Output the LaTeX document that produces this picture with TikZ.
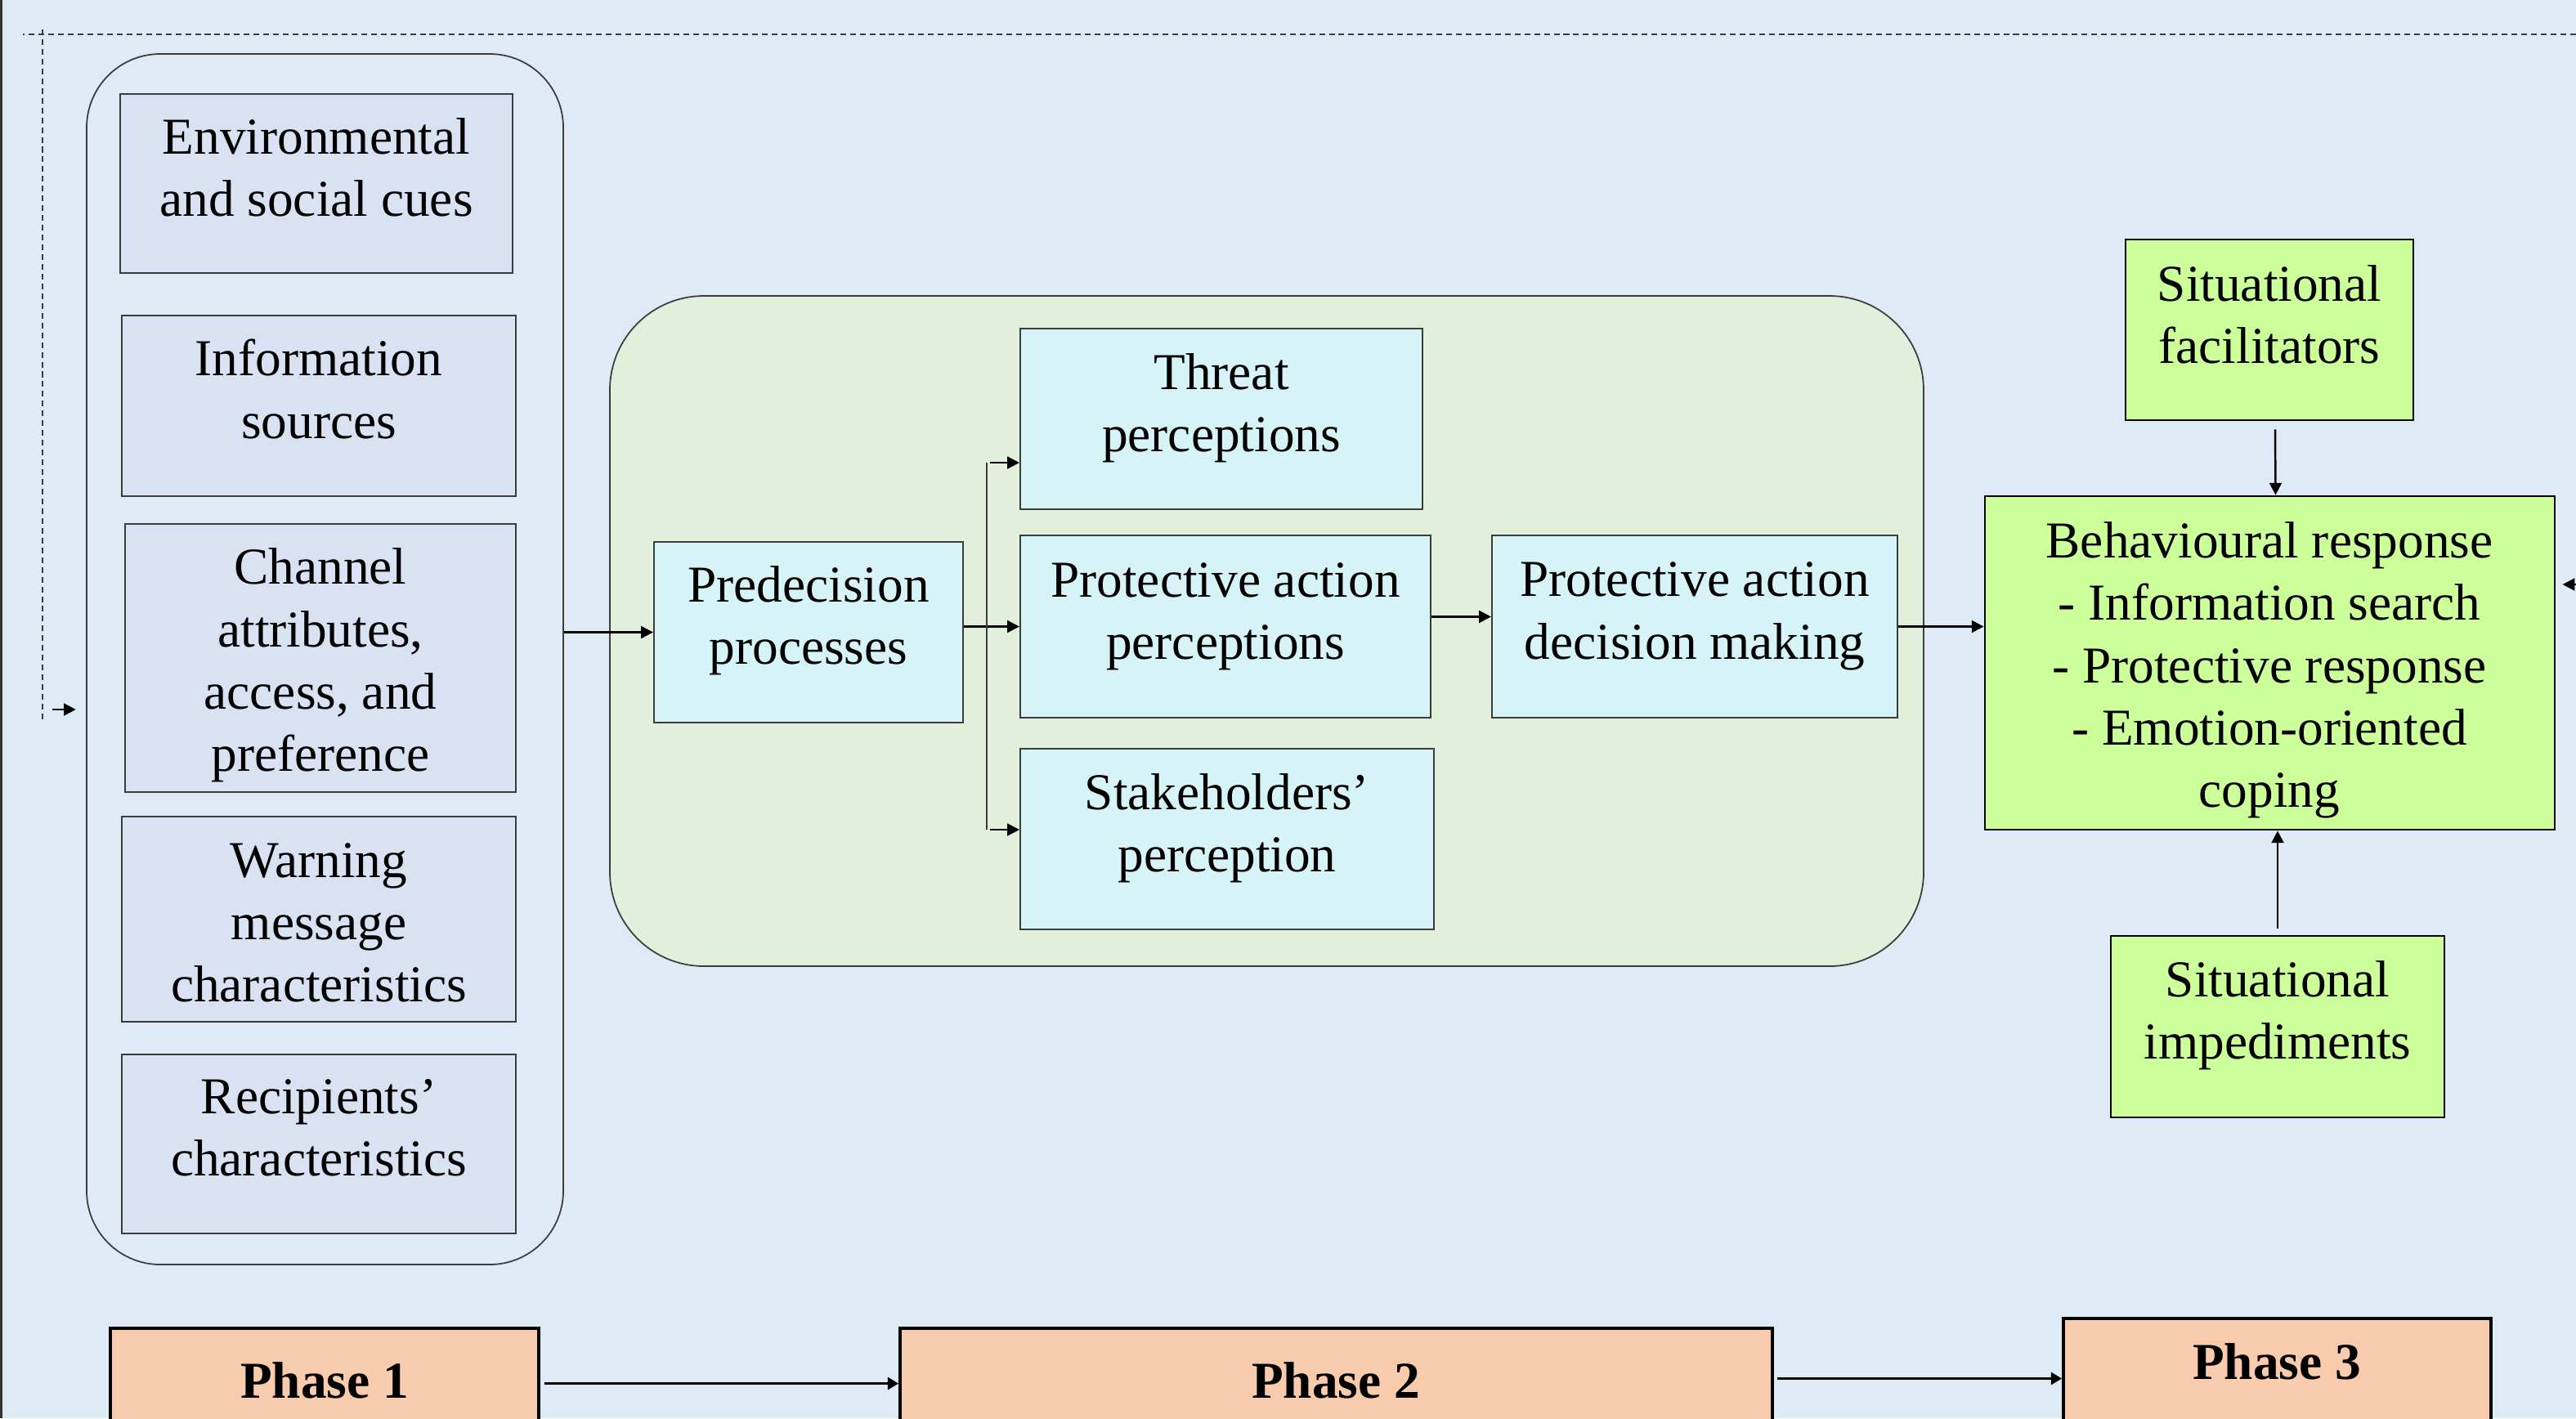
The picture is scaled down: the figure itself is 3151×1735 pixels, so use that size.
\documentclass[tikz,border=0pt]{standalone}
\usepackage{fontspec}
\setmainfont{Liberation Serif}
\usetikzlibrary{arrows.meta,fit}

\definecolor{bg}{RGB}{222,234,246}
\definecolor{lav}{RGB}{217,226,243}
\definecolor{pale}{RGB}{226,239,218}
\definecolor{cyanbox}{RGB}{214,244,247}
\definecolor{lime}{RGB}{204,255,153}
\definecolor{peach}{RGB}{248,203,173}
\definecolor{edge}{RGB}{60,60,60}

\tikzset{
  txt/.style={align=center, inner sep=0pt, font=\fontsize{18}{21.7}\selectfont},
  phasetxt/.style={align=center, inner sep=0pt, font=\fontsize{18}{21.7}\selectfont\bfseries},
  group/.style={draw=edge, line width=0.5pt, inner sep=0pt},
  lavbox/.style={draw=edge, fill=lav, line width=0.7pt, inner sep=0pt},
  cybox/.style={draw=edge, fill=cyanbox, line width=0.6pt, inner sep=0pt},
  limebox/.style={draw=black, fill=lime, line width=0.8pt, inner sep=0pt},
  phasebox/.style={draw=black, fill=peach, line width=1pt, inner sep=0pt},
  arr/.style={draw=black, line width=0.7pt, -{Triangle[length=4.2pt,width=4.2pt]}},
  phasearr/.style={draw=black, line width=1pt, -{Triangle[length=3.8pt,width=4.2pt]}},
  fbline/.style={draw=edge, line width=0.45pt, dash pattern=on 2pt off 1.4pt}
}

\begin{document}
\begin{tikzpicture}[x=0.01cm, y=-0.01cm]
\clip (0,0) rectangle (3151,1735);
\fill[bg] (0,0) rectangle (3151,1735);
\draw[line width=1pt, black!80] (1.5,0) -- (1.5,1735);

% feedback loop from the response back to the cues
\draw[fbline] (3151,42) -- (28,42);
\draw[fbline] (52,36) -- (52,882);

% phase 1: input group
\node[group, rounded corners=0.9cm, fit={(106,66) (689,1547)}] (lg) {};
\node[lavbox, fit={(147,115) (627,334)}] (env) {};
\node[txt] (envt) at (387,205) {Environmental\\and social cues};
\node[lavbox, fit={(149,386) (631,607)}] (info) {};
\node[txt] (infot) at (390,476) {Information\\sources};
\node[lavbox, fit={(153,641) (631,969)}] (chan) {};
\node[txt] (chant) at (392,814) {Channel\\attributes,\\access, and\\preference};
\node[lavbox, fit={(149,999) (631,1250)}] (warn) {};
\node[txt] (warnt) at (390,1129) {Warning\\message\\characteristics};
\node[lavbox, fit={(149,1290) (631,1509)}] (recip) {};
\node[txt] (recipt) at (390,1380) {Recipients’\\characteristics};

% phase 2: decision group
\node[group, fill=pale, rounded corners=1.15cm, fit={(746,362) (2353,1182)}] (gg) {};
\node[cybox, fit={(800,663) (1178,884)}] (pre) {};
\node[txt] (pret) at (989,759) {Predecision\\processes};
\node[cybox, fit={(1248,402) (1740,623)}] (threat) {};
\node[txt] (threatt) at (1494,499) {Threat\\perceptions};
\node[cybox, fit={(1248,655) (1750,878)}] (pact) {};
\node[txt] (pactt) at (1499,754) {Protective action\\perceptions};
\node[cybox, fit={(1248,916) (1754,1137)}] (stake) {};
\node[txt] (staket) at (1501,1013) {Stakeholders’\\perception};
\node[cybox, fit={(1825,655) (2321,878)}] (dec) {};
\node[txt] (dect) at (2073,754) {Protective action\\decision making};

% phase 3: response
\node[limebox, fit={(2600,293) (2952,514)}] (fac) {};
\node[txt] (fact) at (2776,385) {Situational\\facilitators};
\node[limebox, fit={(2428,607) (3125,1015)}] (beh) {};
\node[txt] (beht) at (2776,820) {Behavioural response\\- Information search\\- Protective response\\- Emotion-oriented\\coping};
\node[limebox, fit={(2582,1145) (2990,1367)}] (imp) {};
\node[txt] (impt) at (2786,1242) {Situational\\impediments};

% phase bar
\node[phasebox, fit={(135,1625) (659,1760)}] (ph1) {};
\node[phasetxt] (ph1t) at (397,1689) {Phase 1};
\node[phasebox, fit={(1101,1625) (2168,1760)}] (ph2) {};
\node[phasetxt] (ph2t) at (1634,1689) {Phase 2};
\node[phasebox, fit={(2524,1613) (3047,1760)}] (ph3) {};
\node[phasetxt] (ph3t) at (2785,1666) {Phase 3};

% connectors
\draw[arr] (pre.west -| lg.east) -- (pre.west);
\draw[line width=0.7pt] (pact.west -| pre.east) -- (pact.west -| 1207,0);
\draw[arr] (pact.west -| 1207,0) -- (pact.west);
\coordinate (bt) at (1207,566);
\coordinate (bb) at (1207,1015);
\draw[line width=0.6pt, edge] (bt) -- (bb);
\draw[arr] ([xshift=1pt]bt) -- (bt -| threat.west);
\draw[arr] ([xshift=1pt]bb) -- (bb -| stake.west);
\draw[arr] ([yshift=0.12cm]pact.east) -- ([yshift=0.12cm]dec.west);
\draw[arr] (dec.east) -- (dec.east -| beh.west);
\draw[arr] ([xshift=0.07cm,yshift=-0.1cm]fac.south) -- ([xshift=0.07cm]beh.north);
\draw[arr] ([yshift=0.08cm]imp.north) -- (imp.north |- beh.south);

\coordinate (fbin) at (64,868);
\draw[arr, shorten >=3.5pt] (fbin) -- (fbin -| lg.west);
\coordinate (fbout) at (3151,715);
\draw[arr, shorten >=2.3pt] (fbout) -- (fbout -| beh.east);

\draw[phasearr] ([xshift=0.05cm]ph1.east) -- (ph2.west |- ph1.east);
\draw[phasearr] ([xshift=0.04cm]ph3.west -| ph2.east) -- (ph3.west);
\end{tikzpicture}
\end{document}
